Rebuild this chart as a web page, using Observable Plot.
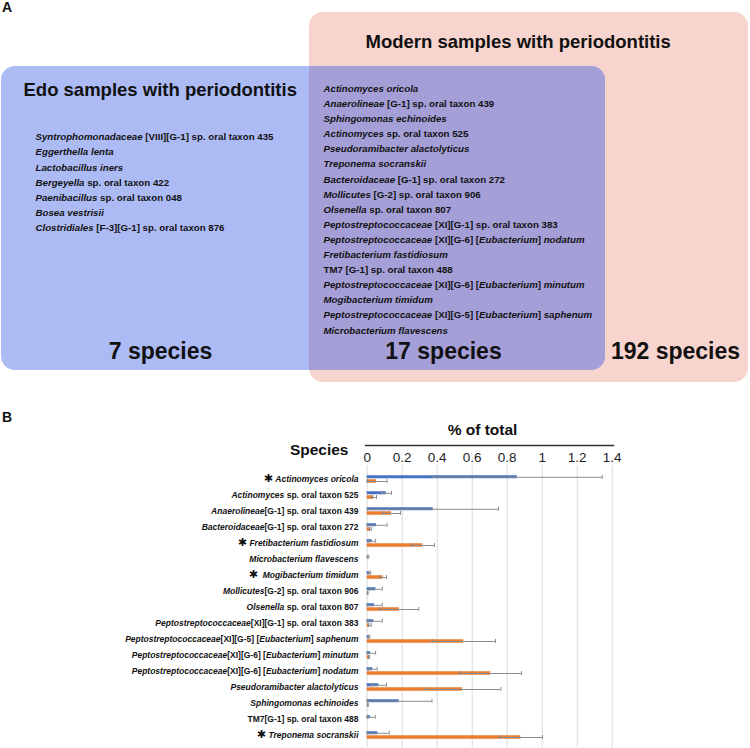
<!DOCTYPE html>
<html><head><meta charset="utf-8">
<script src="https://cdn.jsdelivr.net/npm/d3@7"></script>
<script src="https://cdn.jsdelivr.net/npm/@observablehq/plot@0.6"></script>
<style>
body{margin:0;background:#fff;font-family:"Liberation Sans",Arial,Helvetica,sans-serif;}
#wrap{position:relative;width:750px;height:748px;overflow:hidden}
.panel{position:absolute;left:0}
.lbl{position:absolute;left:2px;font:bold 14px "Liberation Sans",Arial,sans-serif;color:#111;line-height:16px}
</style></head><body>
<div id="wrap">
  <div id="a" class="panel" style="top:0"></div>
  <div id="b" class="panel" style="top:395px"></div>
  <div class="lbl" style="top:-1px">A</div>
  <div class="lbl" style="top:409px">B</div>
</div>
<script>
// ---------- DATA (panel A: Venn diagram) ----------
const edoTitle = "Edo samples with periodontitis";
const modernTitle = "Modern samples with periodontitis";
const edoOnlySpecies = [
  "_Syntrophomonadaceae_ [VIII][G-1] sp. oral taxon 435",
  "_Eggerthella lenta_",
  "_Lactobacillus iners_",
  "_Bergeyella_ sp. oral taxon 422",
  "_Paenibacillus_ sp. oral taxon 048",
  "_Bosea vestrisii_",
  "_Clostridiales_ [F-3][G-1] sp. oral taxon 876"
];
const sharedSpecies = [
  "_Actinomyces oricola_",
  "_Anaerolineae_ [G-1] sp. oral taxon 439",
  "_Sphingomonas echinoides_",
  "_Actinomyces_ sp. oral taxon 525",
  "_Pseudoramibacter alactolyticus_",
  "_Treponema socranskii_",
  "_Bacteroidaceae_ [G-1] sp. oral taxon 272",
  "_Mollicutes_ [G-2] sp. oral taxon 906",
  "_Olsenella_ sp. oral taxon 807",
  "_Peptostreptococcaceae_ [XI][G-1] sp. oral taxon 383",
  "_Peptostreptococcaceae_ [XI][G-6] [_Eubacterium_] _nodatum_",
  "_Fretibacterium fastidiosum_",
  "TM7 [G-1] sp. oral taxon 488",
  "_Peptostreptococcaceae_ [XI][G-6] [_Eubacterium_] _minutum_",
  "_Mogibacterium timidum_",
  "_Peptostreptococcaceae_ [XI][G-5] [_Eubacterium_] _saphenum_",
  "_Microbacterium flavescens_"
];
const speciesCounts = [7, 17, 192]; // Edo only, both, Modern only

// ---------- DATA (panel B: bar chart) ----------
const speciesLabels = [
  "✱ _Actinomyces oricola_",
  "_Actinomyces_ sp. oral taxon 525",
  "_Anaerolineae_[G-1] sp. oral taxon 439",
  "_Bacteroidaceae_[G-1] sp. oral taxon 272",
  "✱ _Fretibacterium fastidiosum_",
  "_Microbacterium flavescens_",
  "✱  _Mogibacterium timidum_",
  "_Mollicutes_[G-2] sp. oral taxon 906",
  "_Olsenella_ sp. oral taxon 807",
  "_Peptostreptococcaceae_[XI][G-1] sp. oral taxon 383",
  "_Peptostreptococcaceae_[XI][G-5] [_Eubacterium_] _saphenum_",
  "_Peptostreptococcaceae_[XI][G-6] [_Eubacterium_] _minutum_",
  "_Peptostreptococcaceae_[XI][G-6] [_Eubacterium_] _nodatum_",
  "_Pseudoramibacter alactolyticus_",
  "_Sphingomonas echinoides_",
  "TM7[G-1] sp. oral taxon 488",
  "✱ _Treponema socranskii_"
];
const edoMean   = [0.857, 0.109, 0.377, 0.053, 0.029, 0.006, 0.015, 0.050, 0.042, 0.038, 0.011, 0.019, 0.032, 0.067, 0.183, 0.019, 0.061];
const edoErr    = [0.486, 0.030, 0.373, 0.061, 0.019, 0.003, 0.005, 0.036, 0.044, 0.048, 0.004, 0.029, 0.025, 0.043, 0.187, 0.027, 0.065];
const modernMean= [0.053, 0.038, 0.139, 0.019, 0.318, 0.000, 0.091, 0.003, 0.183, 0.015, 0.552, 0.011, 0.705, 0.545, 0.004, 0.000, 0.878];
const modernErr = [0.061, 0.015, 0.051, 0.005, 0.066, 0.000, 0.019, 0.002, 0.112, 0.008, 0.181, 0.003, 0.177, 0.219, 0.002, 0.000, 0.124];
const xTicks = [0, 0.2, 0.4, 0.6, 0.8, 1, 1.2, 1.4];
const xTickLabels = ["0", "0.2", "0.4", "0.6", "0.8", "1", "1.2", "1.4"];

// ---------- styles / layout ----------
const FONT = "'Liberation Sans', Arial, Helvetica, sans-serif";
const PINK = "#f7d4cd", BLUE_BOX = "#adbbf5", OVERLAP = "#a59fd8";
const BAR_BLUE = "#4472c4", BAR_ORANGE = "#ed7d31", ERR = "#8c8c8c";
// Venn geometry (layout, pixels)
const box = {
  modern: {x1: 309, x2: 748, y1: 12, y2: 382},
  edo:    {x1: 1,   x2: 605, y1: 66, y2: 370}
};
const overlapBox = {x1: box.modern.x1, x2: box.edo.x2, y1: box.edo.y1, y2: box.edo.y2};
const overlapSquare = {x1: box.modern.x1, x2: box.modern.x1 + 20, y1: box.edo.y1, y2: box.edo.y2};
const rectOpts = {x1: "x1", x2: "x2", y1: "y1", y2: "y2", rx: 14};

const counts = [
  {text: speciesCounts[0] + " species", x: 160},
  {text: speciesCounts[1] + " species", x: 443},
  {text: speciesCounts[2] + " species", x: 675}
];

const panelA = Plot.plot({
  width: 750, height: 395,
  margin: 0,
  x: {domain: [0, 750], range: [0, 750], axis: null},
  y: {domain: [0, 395], range: [0, 395], axis: null},
  style: {fontFamily: FONT, color: "#111", background: "transparent"},
  marks: [
    Plot.rect([box.modern], {...rectOpts, fill: PINK}),
    Plot.rect([box.edo], {...rectOpts, fill: BLUE_BOX}),
    Plot.rect([overlapBox], {...rectOpts, fill: OVERLAP}),
    Plot.rect([overlapSquare], {x1: "x1", x2: "x2", y1: "y1", y2: "y2", fill: OVERLAP}),
    Plot.text([edoTitle], {x: 23, y: 90, textAnchor: "start", fontSize: 18.5, fontWeight: "bold"}),
    Plot.text([modernTitle], {x: 365, y: 42, textAnchor: "start", fontSize: 18.5, fontWeight: "bold"}),
    Plot.text([edoOnlySpecies.join("\n")], {x: 35, y: 129.2, textAnchor: "start", lineAnchor: "top", lineHeight: 1.556, fontSize: 9.7, fontWeight: "bold"}),
    Plot.text([sharedSpecies.join("\n")], {x: 323, y: 80.8, textAnchor: "start", lineAnchor: "top", lineHeight: 1.556, fontSize: 9.7, fontWeight: "bold"}),
    Plot.text(counts, {x: "x", y: 351, text: "text", fontSize: 23, fontWeight: "bold"})
  ]
});

const rows = speciesLabels.map((s, i) => ({
  species: s, edo: edoMean[i], edoErr: edoErr[i], modern: modernMean[i], modernErr: modernErr[i]
}));
const errRows = (errKey) => rows.filter(d => d[errKey] > 0);

const panelB = Plot.plot({
  width: 750, height: 353,
  marginTop: 50, marginBottom: 1, marginLeft: 365, marginRight: 137,
  x: {domain: [0, 1.4], insetLeft: 1.7, insetRight: 1.3, axis: null},
  y: {domain: speciesLabels, type: "band", padding: 0, insetTop: 21, axis: null},
  style: {fontFamily: FONT, color: "#111", background: "transparent"},
  marks: [
    Plot.ruleX(xTicks, {x: d => d, insetTop: 20, stroke: "#d9d9d9", strokeWidth: 1}),
    Plot.frame({anchor: "top", stroke: "#333", strokeWidth: 1.5}),
    Plot.text(xTicks, {x: d => d, text: (d, i) => xTickLabels[i], frameAnchor: "top", lineAnchor: "middle", dy: 12, fontSize: 13.5, fill: "#222"}),
    Plot.text(["Species"], {frameAnchor: "top-left", textAnchor: "end", lineAnchor: "middle", dx: -17, dy: 5, fontSize: 15.5, fontWeight: "bold"}),
    Plot.text(["% of total"], {frameAnchor: "top", lineAnchor: "middle", dx: -7, dy: -15, fontSize: 15.5, fontWeight: "bold"}),
    Plot.axisY({anchor: "left", tickSize: 0, tickPadding: 7, fontSize: 8.5, fontWeight: "bold", label: null}),
    Plot.barX(rows, {y: "species", x: "edo", fill: BAR_BLUE, insetTop: 4.25, insetBottom: 8.75}),
    Plot.barX(rows, {y: "species", x: "modern", fill: BAR_ORANGE, insetTop: 8.25, insetBottom: 4.25}),
    Plot.ruleY(errRows("edoErr"), {y: "species", x1: d => Math.max(0, d.edo - d.edoErr), x2: d => d.edo + d.edoErr, dy: -2.25, stroke: ERR, strokeWidth: 1}),
    Plot.tickX(errRows("edoErr"), {y: "species", x: d => d.edo + d.edoErr, insetTop: 3.75, insetBottom: 8.25, stroke: ERR, strokeWidth: 1}),
    Plot.tickX(errRows("edoErr"), {y: "species", x: d => Math.max(0, d.edo - d.edoErr), insetTop: 3.75, insetBottom: 8.25, stroke: ERR, strokeWidth: 1}),
    Plot.ruleY(errRows("modernErr"), {y: "species", x1: d => Math.max(0, d.modern - d.modernErr), x2: d => d.modern + d.modernErr, dy: 2, stroke: ERR, strokeWidth: 1}),
    Plot.tickX(errRows("modernErr"), {y: "species", x: d => d.modern + d.modernErr, insetTop: 8, insetBottom: 4, stroke: ERR, strokeWidth: 1}),
    Plot.tickX(errRows("modernErr"), {y: "species", x: d => Math.max(0, d.modern - d.modernErr), insetTop: 8, insetBottom: 4, stroke: ERR, strokeWidth: 1})
  ]
});

document.getElementById("a").appendChild(panelA);
document.getElementById("b").appendChild(panelB);

// Rich text: _..._ -> italic, ✱ -> asterisk glyph in normal style
const NS = "http://www.w3.org/2000/svg";
function richify(root) {
  const els = Array.from(root.querySelectorAll("text, tspan"));
  for (const el of els) {
    if (el.childNodes.length !== 1 || el.firstChild.nodeType !== 3) continue;
    const s = el.textContent;
    if (!s.includes("_") && !s.includes("✱")) continue;
    el.textContent = "";
    const tokens = s.split(/(✱|_[^_]*_)/).filter(t => t !== "");
    for (const t of tokens) {
      const ts = document.createElementNS(NS, "tspan");
      if (t === "✱") {
        ts.textContent = "✱";
        ts.setAttribute("font-style", "normal");
        ts.setAttribute("font-size", "11");
        ts.setAttribute("font-family", "DejaVu Sans, sans-serif");
      } else if (t.startsWith("_")) {
        ts.textContent = t.slice(1, -1);
        ts.setAttribute("font-style", "italic");
      } else {
        ts.textContent = t;
        ts.setAttribute("font-style", "normal");
      }
      el.appendChild(ts);
    }
  }
}
richify(panelA);
richify(panelB);
</script>
</body></html>
